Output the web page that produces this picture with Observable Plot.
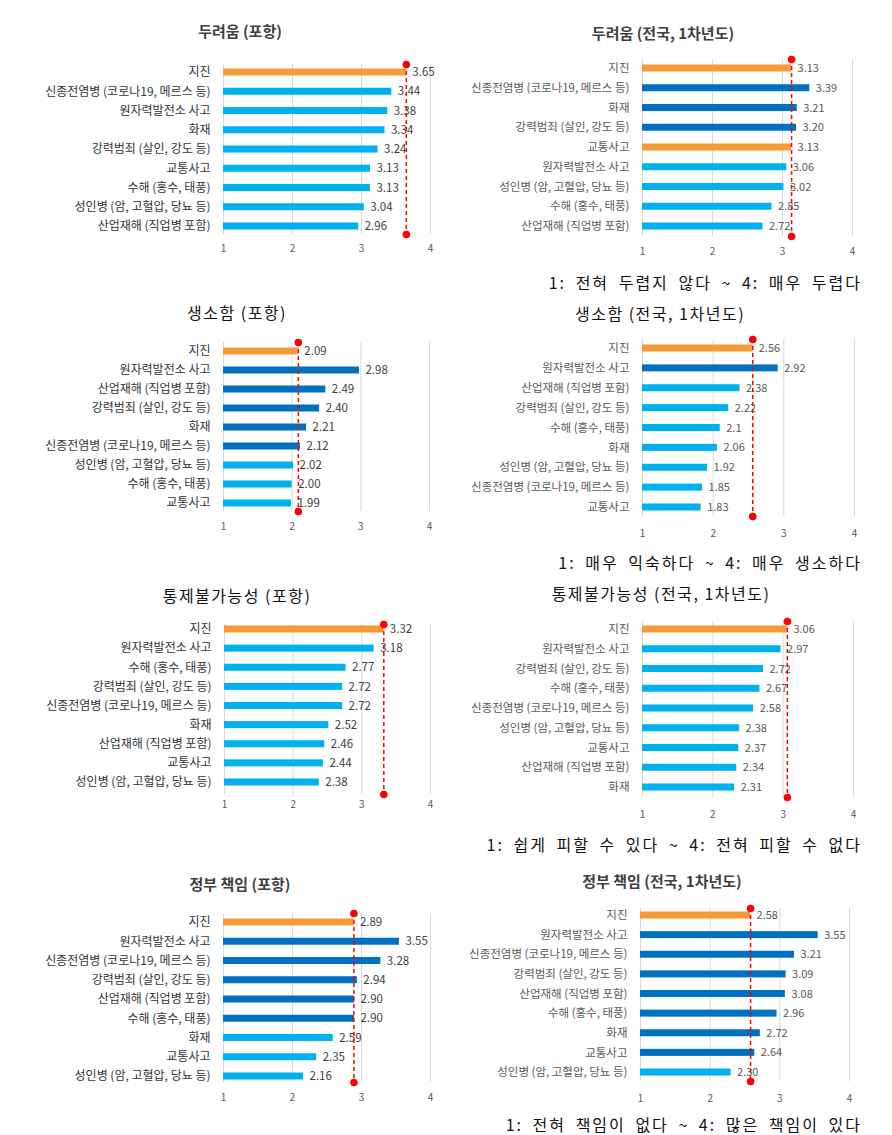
<!DOCTYPE html>
<html><head><meta charset="utf-8">
<script src="https://cdn.jsdelivr.net/npm/d3@7"></script>
<script src="https://cdn.jsdelivr.net/npm/@observablehq/plot@0.6"></script>
<style>
body{margin:0;background:#fff;}
#root{position:relative;width:892px;height:1135px;overflow:hidden;font-family:"Noto Sans CJK KR",sans-serif;}
.title{position:absolute;transform:translate(-50%,-50%);white-space:nowrap;line-height:1;}
.cap{position:absolute;transform:translateY(-50%);white-space:pre;font-size:16px;color:#111;letter-spacing:2px;word-spacing:4px;line-height:1;}
.panel{position:absolute;}
</style></head><body><div id="root"></div>
<script>
// ---- data ----
const groupDomain = ["강조", "상위", "하위"];
const groupColors = ["#F79A38", "#0070C0", "#00B0F0"];

const titles = [
  "두려움 (포항)", "두려움 (전국, 1차년도)",
  "생소함 (포항)", "생소함 (전국, 1차년도)",
  "통제불가능성 (포항)", "통제불가능성 (전국, 1차년도)",
  "정부 책임 (포항)", "정부 책임 (전국, 1차년도)"
];
const captions = [
  "1: 전혀 두렵지 않다 ~ 4: 매우 두렵다",
  "1: 매우 익숙하다 ~ 4: 매우 생소하다",
  "1: 쉽게 피할 수 있다 ~ 4: 전혀 피할 수 없다",
  "1: 전혀 책임이 없다 ~ 4: 많은 책임이 있다"
];
const xTicks = [1, 2, 3, 4];

const fearPohangCats = ["지진", "신종전염병 (코로나19, 메르스 등)", "원자력발전소 사고", "화재", "강력범죄 (살인, 강도 등)", "교통사고", "수해 (홍수, 태풍)", "성인병 (암, 고혈압, 당뇨 등)", "산업재해 (직업병 포함)"];
const fearPohangValues = ["3.65", "3.44", "3.38", "3.34", "3.24", "3.13", "3.13", "3.04", "2.96"];
const fearPohangGroups = ["강조", "하위", "하위", "하위", "하위", "하위", "하위", "하위", "하위"];

const fearNationCats = ["지진", "신종전염병 (코로나19, 메르스 등)", "화재", "강력범죄 (살인, 강도 등)", "교통사고", "원자력발전소 사고", "성인병 (암, 고혈압, 당뇨 등)", "수해 (홍수, 태풍)", "산업재해 (직업병 포함)"];
const fearNationValues = ["3.13", "3.39", "3.21", "3.20", "3.13", "3.06", "3.02", "2.85", "2.72"];
const fearNationGroups = ["강조", "상위", "상위", "상위", "강조", "하위", "하위", "하위", "하위"];

const unfamPohangCats = ["지진", "원자력발전소 사고", "산업재해 (직업병 포함)", "강력범죄 (살인, 강도 등)", "화재", "신종전염병 (코로나19, 메르스 등)", "성인병 (암, 고혈압, 당뇨 등)", "수해 (홍수, 태풍)", "교통사고"];
const unfamPohangValues = ["2.09", "2.98", "2.49", "2.40", "2.21", "2.12", "2.02", "2.00", "1.99"];
const unfamPohangGroups = ["강조", "상위", "상위", "상위", "상위", "상위", "하위", "하위", "하위"];

const unfamNationCats = ["지진", "원자력발전소 사고", "산업재해 (직업병 포함)", "강력범죄 (살인, 강도 등)", "수해 (홍수, 태풍)", "화재", "성인병 (암, 고혈압, 당뇨 등)", "신종전염병 (코로나19, 메르스 등)", "교통사고"];
const unfamNationValues = ["2.56", "2.92", "2.38", "2.22", "2.1", "2.06", "1.92", "1.85", "1.83"];
const unfamNationGroups = ["강조", "상위", "하위", "하위", "하위", "하위", "하위", "하위", "하위"];

const uncontPohangCats = ["지진", "원자력발전소 사고", "수해 (홍수, 태풍)", "강력범죄 (살인, 강도 등)", "신종전염병 (코로나19, 메르스 등)", "화재", "산업재해 (직업병 포함)", "교통사고", "성인병 (암, 고혈압, 당뇨 등)"];
const uncontPohangValues = ["3.32", "3.18", "2.77", "2.72", "2.72", "2.52", "2.46", "2.44", "2.38"];
const uncontPohangGroups = ["강조", "하위", "하위", "하위", "하위", "하위", "하위", "하위", "하위"];

const uncontNationCats = ["지진", "원자력발전소 사고", "강력범죄 (살인, 강도 등)", "수해 (홍수, 태풍)", "신종전염병 (코로나19, 메르스 등)", "성인병 (암, 고혈압, 당뇨 등)", "교통사고", "산업재해 (직업병 포함)", "화재"];
const uncontNationValues = ["3.06", "2.97", "2.72", "2.67", "2.58", "2.38", "2.37", "2.34", "2.31"];
const uncontNationGroups = ["강조", "하위", "하위", "하위", "하위", "하위", "하위", "하위", "하위"];

const govPohangCats = ["지진", "원자력발전소 사고", "신종전염병 (코로나19, 메르스 등)", "강력범죄 (살인, 강도 등)", "산업재해 (직업병 포함)", "수해 (홍수, 태풍)", "화재", "교통사고", "성인병 (암, 고혈압, 당뇨 등)"];
const govPohangValues = ["2.89", "3.55", "3.28", "2.94", "2.90", "2.90", "2.59", "2.35", "2.16"];
const govPohangGroups = ["강조", "상위", "상위", "상위", "상위", "상위", "하위", "하위", "하위"];

const govNationCats = ["지진", "원자력발전소 사고", "신종전염병 (코로나19, 메르스 등)", "강력범죄 (살인, 강도 등)", "산업재해 (직업병 포함)", "수해 (홍수, 태풍)", "화재", "교통사고", "성인병 (암, 고혈압, 당뇨 등)"];
const govNationValues = ["2.58", "3.55", "3.21", "3.09", "3.08", "2.96", "2.72", "2.64", "2.30"];
const govNationGroups = ["강조", "상위", "상위", "상위", "상위", "상위", "상위", "상위", "하위"];

const panels = [
  [fearPohangCats, fearPohangValues, fearPohangGroups],
  [fearNationCats, fearNationValues, fearNationGroups],
  [unfamPohangCats, unfamPohangValues, unfamPohangGroups],
  [unfamNationCats, unfamNationValues, unfamNationGroups],
  [uncontPohangCats, uncontPohangValues, uncontPohangGroups],
  [uncontNationCats, uncontNationValues, uncontNationGroups],
  [govPohangCats, govPohangValues, govPohangGroups],
  [govNationCats, govNationValues, govNationGroups]
];

// ---- layout ----
const layouts = [
  {left:0,   T:64,  B:234,  c1:72,  c9:226,  x1:223, x4:430, tick:249,  tx:240, ty:30,  ts:"A"},
  {left:446, T:59,  B:236,  c1:68,  c9:226,  x1:642, x4:852, tick:252,  tx:663, ty:32,  ts:"A"},
  {left:0,   T:342, B:511,  c1:351, c9:503,  x1:223, x4:429, tick:527,  tx:237, ty:312, ts:"B"},
  {left:446, T:339, B:516,  c1:348, c9:507,  x1:642, x4:854, tick:534,  tx:660, ty:313, ts:"B"},
  {left:0,   T:624, B:794,  c1:629, c9:782,  x1:224, x4:430, tick:805,  tx:237, ty:595, ts:"B"},
  {left:446, T:621, B:797,  c1:629, c9:787,  x1:642, x4:853, tick:815,  tx:661, ty:593, ts:"B"},
  {left:0,   T:913, B:1082, c1:922, c9:1076, x1:223, x4:430, tick:1098, tx:240, ty:883, ts:"A"},
  {left:446, T:908, B:1081, c1:915, c9:1072, x1:640, x4:849, tick:1099, tx:662, ty:880, ts:"A"}
];
const captionY = [282, 562, 844, 1124];

const root = document.getElementById("root");
const FONT = '"Noto Sans CJK KR", sans-serif';

panels.forEach(([cats, vals, groups], k) => {
  const L = layouts[k];
  const isLeft = L.left === 0;
  const data = cats.map((c, i) => ({cat: c, label: vals[i], value: +vals[i], group: groups[i]}));
  const ref = data[0].value;
  const mt = 20, mb = 40;
  const top = L.T - mt;
  const h = (L.B - L.T) + mt + mb;
  const s = (L.c9 - L.c1) / (cats.length - 1);
  const bw = 7;
  const pi = 1 - bw / s;
  const y0 = L.c1 - top - s * (1 - pi) / 2;
  const y1 = L.c9 - top + s * (1 - pi) / 2;
  const xMin = xTicks[0];

  const chart = Plot.plot({
    width: 446,
    height: h,
    marginTop: mt,
    marginBottom: mb,
    marginLeft: L.x1 - L.left,
    marginRight: L.left + 446 - L.x4,
    style: {fontFamily: FONT, background: "transparent"},
    x: {domain: [xTicks[0], xTicks[xTicks.length - 1]]},
    y: {domain: cats, range: [y0, y1], paddingInner: pi, paddingOuter: 0, round: false},
    color: {domain: groupDomain, range: groupColors},
    marks: [
      Plot.gridX(xTicks, {stroke: "#d9d9d9", strokeOpacity: 1, strokeWidth: 1}),
      Plot.axisX(xTicks, {tickSize: 0, tickPadding: L.tick - L.B - 5, fontSize: 10, color: "#595959", label: null, tickFormat: d => String(d)}),
      Plot.axisY({tickSize: 0, tickPadding: 13, fontSize: isLeft ? 12 : 11.5, color: isLeft ? "#333333" : "#595959", label: null}),
      Plot.barX(data, {x1: () => xMin, x2: "value", y: "cat", fill: "group"}),
      Plot.text(data, {x: "value", y: "cat", text: "label", dx: 6, textAnchor: "start", fontSize: isLeft ? 11.5 : 11, fill: isLeft ? "#404040" : "#595959"}),
      Plot.ruleX([ref], {stroke: "#ff0000", strokeWidth: 1.5, strokeDasharray: "4,3"}),
      Plot.dot([ref], {x: d => d, frameAnchor: "top", r: 3.8, fill: "#ff0000", stroke: "none"}),
      Plot.dot([ref], {x: d => d, frameAnchor: "bottom", r: 3.8, fill: "#ff0000", stroke: "none"})
    ]
  });
  const wrap = document.createElement("div");
  wrap.className = "panel";
  wrap.style.left = L.left + "px";
  wrap.style.top = top + "px";
  wrap.appendChild(chart);
  root.appendChild(wrap);

  const t = document.createElement("div");
  t.className = "title";
  t.textContent = titles[k];
  t.style.left = L.tx + "px";
  t.style.top = L.ty + "px";
  if (L.ts === "A") {
    t.style.fontSize = "15px"; t.style.fontWeight = "700"; t.style.color = "#404040";
  } else {
    t.style.fontSize = "16px"; t.style.fontWeight = "400"; t.style.color = "#111"; t.style.letterSpacing = "1.5px";
  }
  root.appendChild(t);
});

captions.forEach((c, i) => {
  const d = document.createElement("div");
  d.className = "cap";
  d.textContent = c;
  d.style.right = (892 - 862) + "px";
  d.style.top = captionY[i] + "px";
  root.appendChild(d);
});
</script></body></html>
